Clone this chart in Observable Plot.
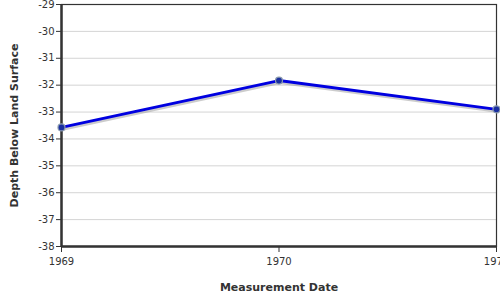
<!DOCTYPE html>
<html>
<head>
<meta charset="utf-8">
<script src="https://cdn.jsdelivr.net/npm/d3@7"></script>
<script src="https://cdn.jsdelivr.net/npm/@observablehq/plot@0.6"></script>
<style>
  body { margin: 0; background: white; }
  g[aria-label="y-axis label"] text, g[aria-label="x-axis label"] text { font-weight: bold; font-size: 11px; fill: #333; }
</style>
</head>
<body>
<div id="chart"></div>
<script>
const years = [1969, 1970, 1971];
const depths = [-33.57, -31.83, -32.9];
const yTicks = [-38, -37, -36, -35, -34, -33, -32, -31, -30, -29];
const xTicks = [1969, 1970, 1971];

const data = years.map((y, i) => ({year: y, depth: depths[i]}));

const chart = Plot.plot({
  width: 500,
  height: 300,
  marginLeft: 61,
  marginRight: 4,
  marginTop: 4,
  marginBottom: 54,
  style: {fontFamily: "DejaVu Sans", fontSize: "10px", color: "#333", background: "white", overflow: "visible"},
  x: {domain: [1969, 1971]},
  y: {domain: [-38, -29]},
  marks: [
    Plot.gridY(yTicks, {stroke: "#d4d4d4", strokeOpacity: 1}),
    Plot.axisY(yTicks, {tickSize: 5, tickPadding: 2, stroke: "#333", tickFormat: d => String(d), label: "Depth Below Land Surface", labelAnchor: "center", labelOffset: 51, labelArrow: "none"}),
    Plot.axisX(xTicks, {tickSize: 6, tickPadding: 5, stroke: "#333", tickFormat: d => String(d), label: "Measurement Date", labelAnchor: "center", labelOffset: 44, labelArrow: "none"}),
    Plot.frame({stroke: "#333", strokeWidth: 1.2}),
    Plot.ruleY([-38], {stroke: "#333", strokeWidth: 2.5}),
    Plot.ruleX([1969], {stroke: "#333", strokeWidth: 2.5}),
    Plot.line(data, {x: "year", y: "depth", stroke: "#999", strokeWidth: 3, strokeOpacity: 0.5, dx: 1, dy: 2}),
    Plot.line(data, {x: "year", y: "depth", stroke: "#0000e0", strokeWidth: 3}),
    Plot.dot(data, {x: "year", y: "depth", r: 3.5, fill: "#1a2fa0", stroke: "#8a9ab0", strokeWidth: 1.2})
  ]
});
document.getElementById("chart").appendChild(chart);
</script>
</body>
</html>
